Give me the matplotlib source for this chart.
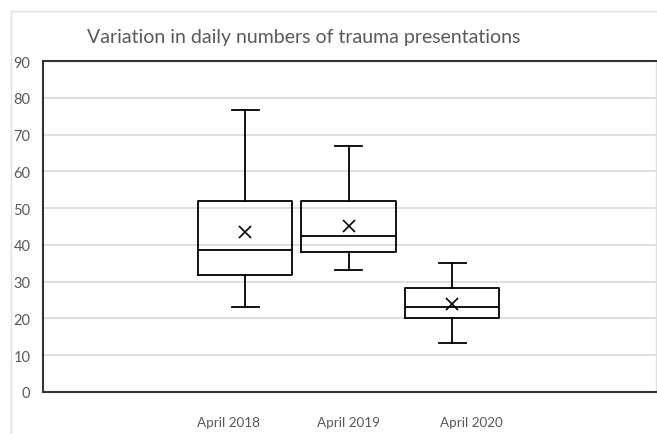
import matplotlib.pyplot as plt
from matplotlib.lines import Line2D

plt.rcParams['font.family'] = ['Lato', 'DejaVu Sans']

# data
labels = ['April 2018', 'April 2019', 'April 2020']
whislo = [23.1, 33.1, 13.2]
q1 = [31.8, 38.1, 20.0]
median = [38.7, 42.5, 23.1]
q3 = [52.0, 51.8, 28.2]
whishi = [76.6, 66.8, 35.1]
mean = [43.6, 45.2, 23.8]

box_pos = [1, 2, 3]
label_pos = [0.84, 2.0, 3.19]

stats = []
for i in range(len(labels)):
    stats.append(dict(whislo=whislo[i], q1=q1[i], med=median[i], q3=q3[i],
                      whishi=whishi[i], mean=mean[i], fliers=[]))

fig = plt.figure(figsize=(6.57, 4.35), dpi=100)
ax = fig.add_axes([43/657, 1-393/435, (656-43)/657, (393-62)/435])

line = dict(color='black', linewidth=1.3)
ax.bxp(stats, positions=box_pos, widths=0.91, capwidths=0.26, showmeans=True,
       showfliers=False, boxprops=line, whiskerprops=line, capprops=line,
       medianprops=line,
       meanprops=dict(marker='x', markeredgecolor='black', markersize=8,
                      markeredgewidth=1.2))

ax.set_xlim(-0.952, 4.97)
ax.set_ylim(0, 90)
ax.set_yticks(range(0, 91, 10))
ax.set_xticks(label_pos)
ax.set_xticklabels(labels)
ax.tick_params(axis='both', length=0, colors='#595959')
ax.tick_params(axis='x', pad=17, labelsize=9.7)
ax.tick_params(axis='y', pad=9, labelsize=10.5)
ax.grid(axis='y', color='#d9d9d9', linewidth=1.2)
ax.set_axisbelow(True)
for s in ['left', 'bottom', 'top']:
    ax.spines[s].set_color('#333333')
    ax.spines[s].set_linewidth(1.5)
ax.spines['right'].set_color('#e0e0e0')
ax.spines['right'].set_linewidth(1)

fig.text(304/657, 1-38/435, 'Variation in daily numbers of trauma presentations',
         ha='center', va='center', fontsize=14, color='#595959')

# outer chart border (cropped)
fig.add_artist(Line2D([11/657, 1], [1-12/435, 1-12/435], color='#e0e0e0', lw=1))
fig.add_artist(Line2D([11/657, 11/657], [0, 1-12/435], color='#e0e0e0', lw=1))

fig.savefig('out.png', dpi=100)
